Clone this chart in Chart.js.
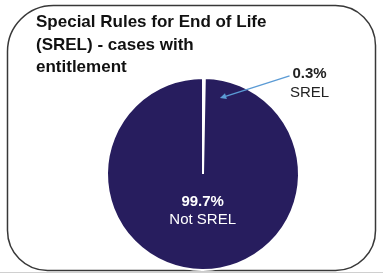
<!DOCTYPE html>
<html><head><meta charset="utf-8">
<script src="https://cdn.jsdelivr.net/npm/chart.js@4.4.1/dist/chart.umd.min.js"></script>
<style>html,body{margin:0;padding:0;background:#fff}#wrap{width:383px;height:273px}</style>
</head><body><div id="wrap"><canvas id="c" width="383" height="273"></canvas></div>
<script>
const titleLines = ['Special Rules for End of Life', '(SREL) - cases with', 'entitlement'];
const categories = ['SREL', 'Not SREL'];
const values = [0.3, 99.7];
const percentLabels = ['0.3%', '99.7%'];
const sliceColors = ['#271d5e', '#271d5e'];

const framePlugin = {
  id: 'frame',
  beforeDraw(chart) {
    const ctx = chart.ctx;
    ctx.save();
    ctx.fillStyle = '#fff';
    ctx.fillRect(0, 0, chart.width, chart.height);
    ctx.strokeStyle = '#d0d0d0';
    ctx.lineWidth = 1;
    ctx.beginPath(); ctx.moveTo(0, 272.5); ctx.lineTo(383, 272.5); ctx.stroke();
    ctx.strokeStyle = '#383838';
    ctx.lineWidth = 1.5;
    ctx.beginPath();
    ctx.roundRect(7.5, 5.5, 368, 265, [46, 40, 40, 40]);
    ctx.stroke();
    ctx.fillStyle = '#111';
    ctx.font = 'bold 17px "Liberation Sans", Arial, sans-serif';
    ctx.textBaseline = 'alphabetic';
    ctx.textAlign = 'left';
    titleLines.forEach((t, i) => ctx.fillText(t, 36, 27 + i * 22.5));
    ctx.restore();
  }
};

const labelPlugin = {
  id: 'labels',
  afterDatasetsDraw(chart) {
    const ctx = chart.ctx;
    const meta = chart.getDatasetMeta(0);
    ctx.save();
    const big = meta.data[1];
    const bp = big.getProps(['x', 'y', 'startAngle', 'endAngle', 'outerRadius']);
    const bmid = (bp.startAngle + bp.endAngle) / 2;
    const bx = bp.x + Math.cos(bmid) * bp.outerRadius * 0.38;
    const by = bp.y + Math.sin(bmid) * bp.outerRadius * 0.38;
    ctx.fillStyle = '#ffffff';
    ctx.textAlign = 'center';
    ctx.textBaseline = 'middle';
    ctx.font = 'bold 15px "Liberation Sans", Arial, sans-serif';
    ctx.fillText(percentLabels[1], bx, by - 9);
    ctx.font = '15px "Liberation Sans", Arial, sans-serif';
    ctx.fillText(categories[1], bx, by + 9.5);

    const sm = meta.data[0];
    const sp = sm.getProps(['x', 'y', 'startAngle', 'endAngle', 'outerRadius']);
    const r = sp.outerRadius;
    const lx = sp.x + r * 1.11, ly = sp.y - r * 0.94;
    ctx.fillStyle = '#222';
    ctx.font = 'bold 15px "Liberation Sans", Arial, sans-serif';
    ctx.fillText(percentLabels[0], lx, ly - 9.5);
    ctx.font = '15px "Liberation Sans", Arial, sans-serif';
    ctx.fillText(categories[0], lx, ly + 9.5);

    const tipA = sp.endAngle + 11.5 * Math.PI / 180;
    const tx = sp.x + Math.cos(tipA) * r * 0.81;
    const ty = sp.y + Math.sin(tipA) * r * 0.81;
    const sx = lx - 20, sy = ly - 8;
    ctx.strokeStyle = '#5b9bd5';
    ctx.fillStyle = '#5b9bd5';
    ctx.lineWidth = 1.3;
    const ang = Math.atan2(ty - sy, tx - sx);
    const hl = 7;
    ctx.beginPath();
    ctx.moveTo(sx, sy);
    ctx.lineTo(tx - Math.cos(ang) * hl * 0.6, ty - Math.sin(ang) * hl * 0.6);
    ctx.stroke();
    ctx.beginPath();
    ctx.moveTo(tx, ty);
    ctx.lineTo(tx - Math.cos(ang - 0.45) * hl, ty - Math.sin(ang - 0.45) * hl);
    ctx.lineTo(tx - Math.cos(ang + 0.45) * hl, ty - Math.sin(ang + 0.45) * hl);
    ctx.closePath();
    ctx.fill();
    ctx.restore();
  }
};

new Chart(document.getElementById('c'), {
  type: 'pie',
  data: {
    labels: categories,
    datasets: [{
      data: values,
      backgroundColor: sliceColors,
      borderColor: '#ffffff',
      borderWidth: 2
    }]
  },
  options: {
    responsive: false,
    animation: false,
    layout: { padding: { top: 77, bottom: 2, left: 106, right: 83 } },
    plugins: {
      legend: { display: false },
      tooltip: { enabled: false },
      title: { display: false }
    }
  },
  plugins: [framePlugin, labelPlugin]
});
</script>
</body></html>
